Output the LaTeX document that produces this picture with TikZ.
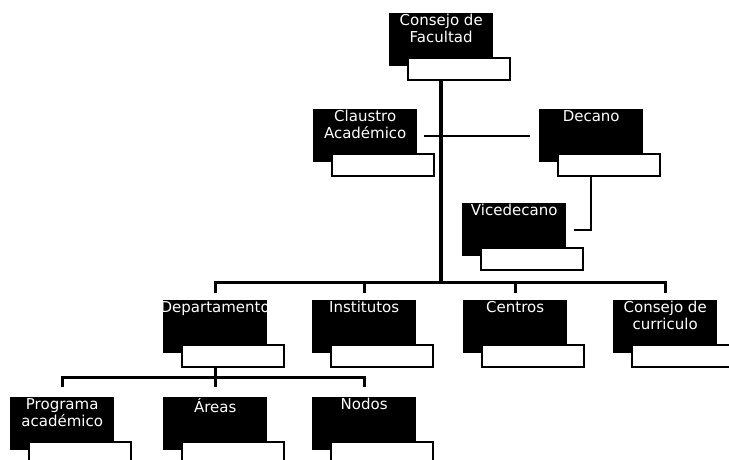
\documentclass[tikz,border=0pt]{standalone}
\usepackage{fontspec}
\setmainfont{DejaVu Sans}
\usepackage{tikz}
\usetikzlibrary{positioning,calc}
\tikzset{
  cargo/.style={anchor=north west,fill=black,inner sep=0pt,minimum width=104pt,minimum height=53pt},
  casilla/.style={anchor=north west,fill=white,draw=black,line width=2.2pt,inner sep=0pt,minimum width=102pt,minimum height=22pt},
  rotulo/.style={anchor=north,text=white,align=center,inner sep=1pt,font=\fontsize{15}{17}\selectfont},
  linea/.style={line width=3pt},
  lineafina/.style={line width=2.4pt},
}
\begin{document}
\begin{tikzpicture}[x=1pt,y=-1pt]
		\clip (0,0) rectangle (729,459);
		\fill[white] (0,0) rectangle (729,459);
		% cargos: nombre/x/y/texto
		\foreach \n/\x/\y/\t in {cf/389/13/{Consejo de\\Facultad}, cla/313/109/{Claustro\\Académico},
				dec/539/109/{Decano}, vic/462/203/{Vicedecano},
				dep/163/300/{Departamento}, ins/312/300/{Institutos}, cen/463/300/{Centros}, cur/613/300/{Consejo de\\curriculo},
				pro/10/397/{Programa\\académico}, are/163/397/{Áreas}, nod/312/397/{Nodos}} {
			\node[cargo] (\n) at (\x,\y) {};
			\node[casilla] (\n-c) at ([shift={(18pt,-44pt)}]\n.north west) {};
			\node[rotulo] (\n-t) at (\n.north) {\t};
		}
		\coordinate (busA) at (0,282);
		\coordinate (busB) at (0,377);
		% tronco principal
		\draw[linea,line width=3.8pt] (cf-c.south -| cf) -- (cf |- busA);
		\draw[lineafina] ([xshift=7pt]cla.east) -- ([xshift=-9pt]dec.west);
		\draw[lineafina] (dec-c.south -| dec) |- ([xshift=8pt]vic.east);
		% segundo nivel
		\draw[linea] ([yshift=7pt]dep.north) -- (dep.north |- busA) -- (cur.north |- busA) -- ([yshift=7pt]cur.north);
		\draw[linea] (ins.north |- busA) -- ([yshift=7pt]ins.north);
		\draw[linea] (cen.north |- busA) -- ([yshift=7pt]cen.north);
		% tercer nivel
		\draw[linea] (dep-c.south -| dep) -- (dep |- busB);
		\draw[linea] ([yshift=10pt]pro.north) -- (pro.north |- busB) -- (nod.north |- busB) -- ([yshift=10pt]nod.north);
		\draw[linea] (are.north |- busB) -- ([yshift=10pt]are.north);
	\end{tikzpicture}
\end{document}
